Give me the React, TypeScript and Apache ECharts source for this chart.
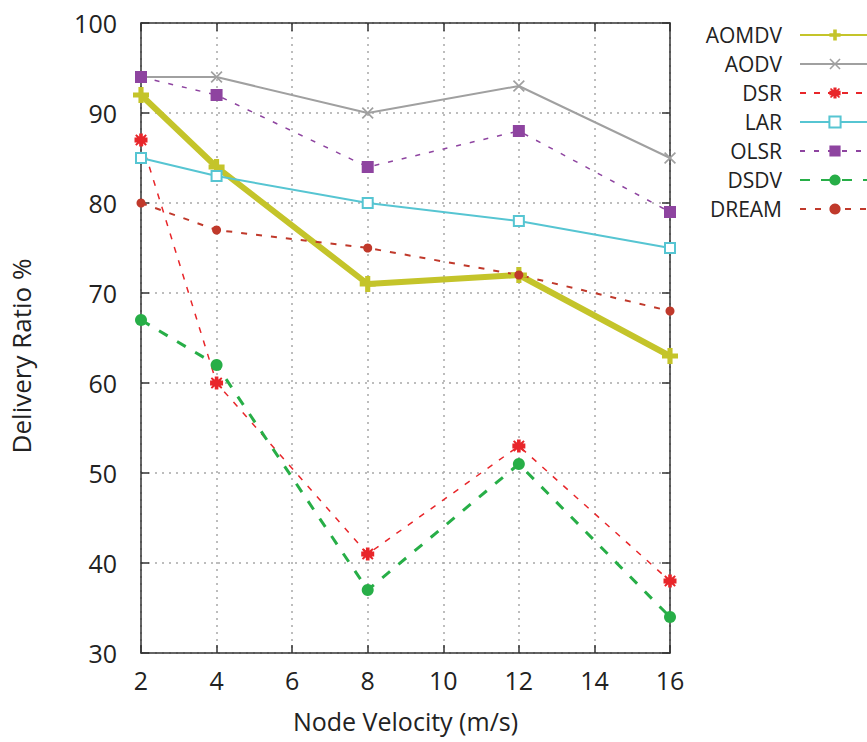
import React, { useEffect, useRef } from "react";
import * as echarts from "echarts";

const velocities = [2, 4, 8, 12, 16];
const aomdv = [92, 84, 71, 72, 63];
const aodv = [94, 94, 90, 93, 85];
const dsr = [87, 60, 41, 53, 38];
const lar = [85, 83, 80, 78, 75];
const olsr = [94, 92, 84, 88, 79];
const dsdv = [67, 62, 37, 51, 34];
const dream = [80, 77, 75, 72, 68];

const xTitle = "Node Velocity (m/s)";
const yTitle = "Delivery Ratio %";

const FONT = "Open Sans";
const TEXT = "#222";

const PLUS = "path://M3.4,0H6.6V3.4H10V6.6H6.6V10H3.4V6.6H0V3.4H3.4Z";
const CROSS = "path://M0,1L1,0L5,4L9,0L10,1L6,5L10,9L9,10L5,6L1,10L0,9L4,5Z";
const STAR =
  "path://M3.6,0H6.4V3H10V7H6.4V10H3.6V7H0V3H3.6Z M0.5,1.5L1.5,0.5L5,3.6L8.5,0.5L9.5,1.5L6.4,5L9.5,8.5L8.5,9.5L5,6.4L1.5,9.5L0.5,8.5L3.6,5Z";

function pts(vals: number[]) {
  return velocities.map((v, i) => [v, vals[i]]);
}

export default function App() {
  const ref = useRef<HTMLDivElement>(null);
  useEffect(() => {
    if (!ref.current) return;
    const chart = echarts.init(ref.current, undefined, { renderer: "svg" });
    const mk = (
      name: string,
      vals: number[],
      color: string,
      width: number,
      type: any,
      symbol: string,
      size: number
    ) => ({
      name,
      type: "line",
      data: pts(vals),
      color,
      symbol,
      symbolSize: size,
      lineStyle: { color, width, type },
      itemStyle: { color },
      z: 3,
    });
    const frame = { show: true, lineStyle: { color: "#333", width: 1.5 } };
    const ticks = { show: true, inside: true, length: 8, lineStyle: { color: "#333", width: 1.5 } };
    const grid = { show: true, lineStyle: { color: "#a8a8a8", width: 1.5, type: [2, 5] } };
    chart.setOption({
      animation: false,
      backgroundColor: "#fff",
      grid: { left: 140, right: 197, top: 23, bottom: 89, containLabel: false },
      legend: {
        orient: "vertical",
        right: -9,
        top: 18,
        align: "right",
        itemWidth: 70,
        itemHeight: 14,
        itemGap: 5,
        textStyle: {
          fontFamily: FONT,
          fontSize: 21,
          lineHeight: 24,
          color: TEXT,
          padding: [0, 13, 0, 0],
        },
        data: ["AOMDV", "AODV", "DSR", "LAR", "OLSR", "DSDV", "DREAM"],
      },
      xAxis: [
        {
          type: "value",
          min: 2,
          max: 16,
          interval: 2,
          position: "bottom",
          name: xTitle,
          nameLocation: "middle",
          nameGap: 55,
          nameTextStyle: { fontFamily: FONT, fontSize: 25, color: TEXT },
          axisLine: frame,
          axisTick: ticks,
          axisLabel: { fontFamily: FONT, fontSize: 25, color: TEXT, margin: 14 },
          splitLine: grid,
        },
        {
          type: "value",
          min: 2,
          max: 16,
          interval: 2,
          position: "top",
          axisLine: frame,
          axisTick: ticks,
          axisLabel: { show: false },
          splitLine: { show: false },
        },
      ],
      yAxis: [
        {
          type: "value",
          min: 30,
          max: 100,
          interval: 10,
          position: "left",
          name: yTitle,
          nameLocation: "middle",
          nameGap: 107,
          nameTextStyle: { fontFamily: FONT, fontSize: 26, color: TEXT, padding: [0, 36, 0, 0] },
          axisLine: frame,
          axisTick: ticks,
          axisLabel: { fontFamily: FONT, fontSize: 25, color: TEXT, margin: 24 },
          splitLine: grid,
        },
        {
          type: "value",
          min: 30,
          max: 100,
          interval: 10,
          position: "right",
          axisLine: frame,
          axisTick: ticks,
          axisLabel: { show: false },
          splitLine: { show: false },
        },
      ],
      series: [
        mk("AOMDV", aomdv, "#c4c42a", 6, "solid", PLUS, 16),
        mk("AODV", aodv, "#a0a0a0", 2, "solid", CROSS, 12),
        mk("DSR", dsr, "#e8262a", 1.5, [6, 8], STAR, 13),
        mk("LAR", lar, "#56c5d2", 2, "solid", "emptyRect", 10),
        mk("OLSR", olsr, "#8e44a0", 1.5, [5, 9], "rect", 12),
        mk("DSDV", dsdv, "#27ae47", 3, [10, 11], "circle", 12),
        mk("DREAM", dream, "#c0392b", 2, [6, 9], "circle", 9),
      ],
    });
    return () => chart.dispose();
  }, []);
  return <div ref={ref} style={{ width: 867, height: 742, position: "absolute", left: 0, top: 0 }} />;
}
